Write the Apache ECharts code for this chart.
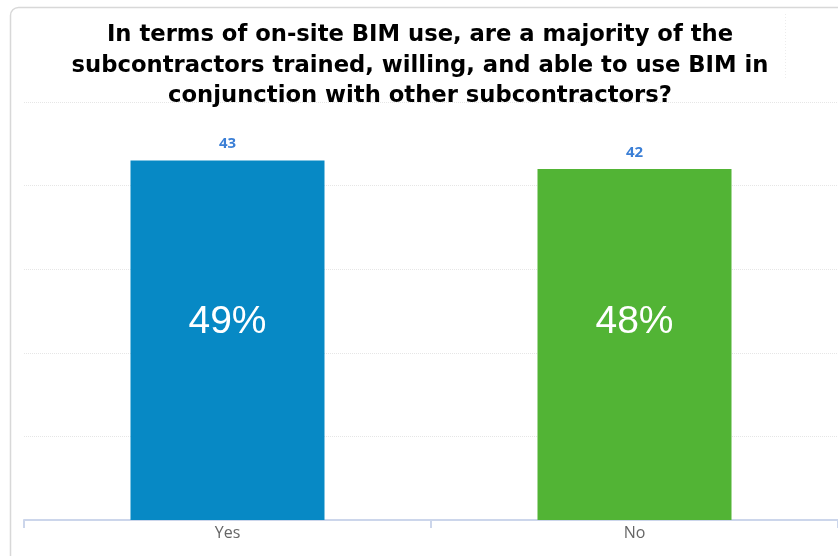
<!DOCTYPE html>
<html><head><meta charset="utf-8">
<script src="https://cdn.jsdelivr.net/npm/echarts@6/dist/echarts.min.js"></script>
<style>html,body{margin:0;padding:0;background:#fff}#c{width:838px;height:556px}</style>
</head><body><div id="c"></div>
<script>
const titleText = "In terms of on-site BIM use, are a majority of the\nsubcontractors trained, willing, and able to use BIM in\nconjunction with other subcontractors?";
const categories = ["Yes", "No"];
const counts = [43, 42];
const percents = ["49%", "48%"];
const barColors = ["#0789c5", "#52b435"];

const chart = echarts.init(document.getElementById('c'), null, {renderer: 'canvas'});
chart.setOption({
  animation: false,
  graphic: [{
    type: 'rect', shape: {x: 10.5, y: 7.5, width: 900, height: 700, r: 8},
    style: {fill: 'none', stroke: '#d8d8d8', lineWidth: 1.5}, z: -1
  }, {
    type: 'line', shape: {x1: 785.5, y1: 14, x2: 785.5, y2: 80},
    style: {stroke: '#ececec', lineWidth: 1, lineDash: [1, 2]}, z: -1
  }],
  title: {
    text: titleText, left: 415, top: 15, textAlign: 'center',
    textStyle: {fontFamily: 'DejaVu Sans', fontWeight: 'bold', fontSize: 22.7, lineHeight: 30.5, color: '#000'}
  },
  grid: {left: 24, right: 0, top: 102, bottom: 36},
  xAxis: {
    type: 'category', data: categories,
    axisLine: {lineStyle: {color: '#ccd6eb', width: 2}},
    axisTick: {show: true, length: 8, lineStyle: {color: '#ccd6eb', width: 2}},
    axisLabel: {color: '#666', fontSize: 16, fontFamily: 'Open Sans, Liberation Sans, sans-serif', margin: 5}
  },
  yAxis: {
    type: 'value', min: 0, max: 50, interval: 10,
    axisLabel: {show: false}, axisLine: {show: false}, axisTick: {show: false},
    splitLine: {lineStyle: {color: '#e6e6e6', type: 'dotted'}}
  },
  series: [{
    type: 'bar', barWidth: 194,
    data: counts.map((v, i) => ({value: v, itemStyle: {color: barColors[i]}})),
    label: {
      show: true, position: 'top', distance: 9, color: '#3b7fd6', fontWeight: 'bold', fontSize: 15,
      fontFamily: 'Open Sans, Liberation Sans, sans-serif'
    }
  }, {
    type: 'bar', barWidth: 194, barGap: '-100%',
    data: counts.map((v, i) => ({value: v, itemStyle: {color: 'transparent'}})),
    label: {
      show: true, position: 'insideBottom', distance: 178, color: '#fff', fontSize: 39,
      fontFamily: 'Liberation Sans, Arial, sans-serif',
      formatter: p => percents[p.dataIndex]
    }, silent: true
  }]
});
</script></body></html>
